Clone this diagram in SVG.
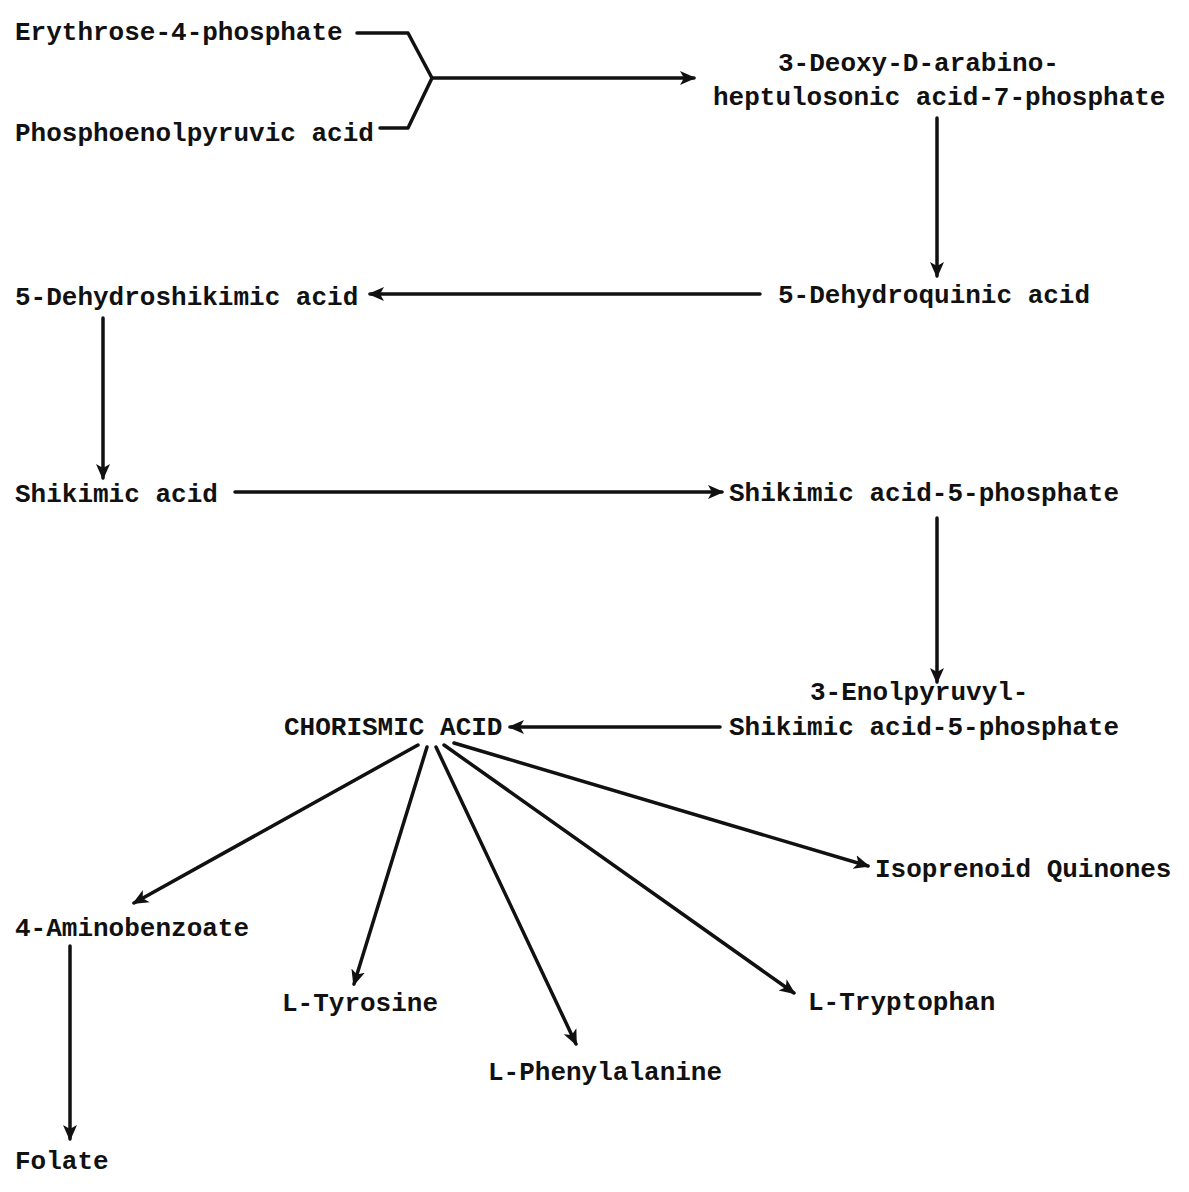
<svg xmlns="http://www.w3.org/2000/svg" width="1189" height="1192" viewBox="0 0 1189 1192">
<defs>
<style>
text{font-family:"Liberation Mono","DejaVu Sans Mono",monospace;font-size:26px;font-weight:bold;fill:#111}
.c{stroke:#111;stroke-width:3.5;fill:none;stroke-linecap:round;stroke-linejoin:round}
.a{marker-end:url(#ah)}
</style>
<marker id="ah" viewBox="0 0 16 16" refX="14" refY="8" markerWidth="16" markerHeight="16" markerUnits="userSpaceOnUse" orient="auto">
<path d="M0,1 L16,8 L0,15 L4,8 z" fill="#111"/>
</marker>
</defs>
<rect width="1189" height="1192" fill="#fff"/>
<g id="connectors">
<path class="c" d="M357,33 H408 L432,78 L408,128 H380"/>
<path class="c a" d="M432,78 H694"/>
<path class="c a" d="M937,118 V276"/>
<path class="c a" d="M760,294 H370"/>
<path class="c a" d="M103,318 V478"/>
<path class="c a" d="M235,492 H722"/>
<path class="c a" d="M937,518 V682"/>
<path class="c a" d="M720,727 H510"/>
<path class="c a" d="M418,745 L134,903"/>
<path class="c a" d="M427,747 L354,984"/>
<path class="c a" d="M436,747 L576,1044"/>
<path class="c a" d="M444,745 L794,993"/>
<path class="c a" d="M454,743 L868,866"/>
<path class="c a" d="M70,946 V1139"/>
</g>
<g id="n-e4p"><text x="15" y="40">Erythrose-4-phosphate</text></g>
<g id="n-pep"><text x="15" y="141">Phosphoenolpyruvic acid</text></g>
<g id="n-dahp"><text x="778" y="71">3-Deoxy-D-arabino-</text><text x="713" y="105">heptulosonic acid-7-phosphate</text></g>
<g id="n-dhq"><text x="778" y="303">5-Dehydroquinic acid</text></g>
<g id="n-dhs"><text x="15" y="305">5-Dehydroshikimic acid</text></g>
<g id="n-shik"><text x="15" y="502">Shikimic acid</text></g>
<g id="n-s5p"><text x="729" y="501">Shikimic acid-5-phosphate</text></g>
<g id="n-epsp"><text x="810" y="700">3-Enolpyruvyl-</text><text x="729" y="735">Shikimic acid-5-phosphate</text></g>
<g id="n-chor"><text x="284" y="735">CHORISMIC ACID</text></g>
<g id="n-pab"><text x="15" y="936">4-Aminobenzoate</text></g>
<g id="n-tyr"><text x="282" y="1011">L-Tyrosine</text></g>
<g id="n-phe"><text x="488" y="1080">L-Phenylalanine</text></g>
<g id="n-trp"><text x="808" y="1010">L-Tryptophan</text></g>
<g id="n-iq"><text x="875" y="877">Isoprenoid Quinones</text></g>
<g id="n-fol"><text x="15" y="1169">Folate</text></g>
</svg>
